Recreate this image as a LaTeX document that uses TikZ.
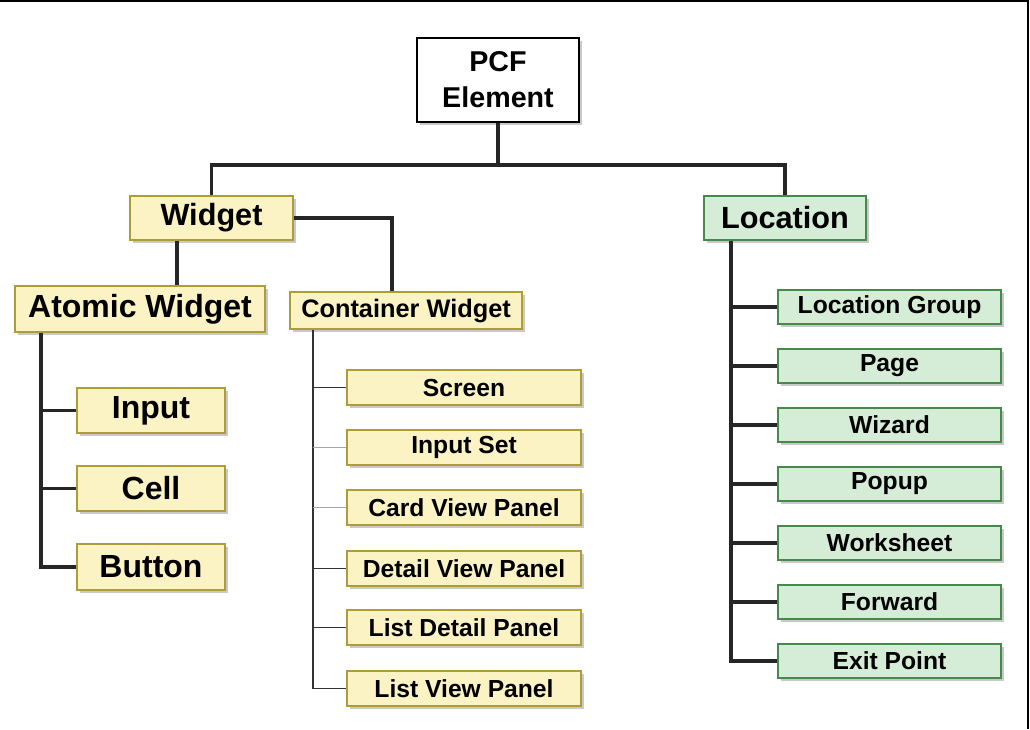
\documentclass[tikz,border=0pt]{standalone}
\usepackage{fontspec}
\setmainfont{Liberation Sans}
\usetikzlibrary{calc,shadows}
\definecolor{yfill}{HTML}{FCF3C5}
\definecolor{ydraw}{HTML}{AE9C36}
\definecolor{gfill}{HTML}{D5EDD6}
\definecolor{gdraw}{HTML}{47884B}
\begin{document}
\begin{tikzpicture}[x=0.75pt,y=-0.75pt,
  box/.style={draw, line width=1.8pt, inner sep=0pt,
    drop shadow={shadow xshift=2.5pt,shadow yshift=-2.5pt,opacity=.35,fill=black!60}},
  ybox/.style={box, fill=yfill, draw=ydraw},
  gbox/.style={box, fill=gfill, draw=gdraw},
  wbox/.style={box, fill=white, draw=black},
  big/.style={font=\bfseries\fontsize{24}{28}\selectfont},
  mid/.style={font=\bfseries\fontsize{23}{27}\selectfont},
  small/.style={font=\bfseries\fontsize{18.5}{22}\selectfont},
  cchild/.style={ybox, small, minimum width=175.5pt, minimum height=26.25pt},
  lchild/.style={gbox, small, minimum width=167.25pt, minimum height=25.5pt},
  awchild/.style={ybox, big, minimum width=111pt, minimum height=33.75pt},
  conn/.style={line width=2.3pt, draw=black!85},
  thinconn/.style={line width=1.2pt, draw=black!80},
  grayconn/.style={line width=0.9pt, draw=black!35}]
\useasboundingbox (0,0) rectangle (1030,729);
\fill[white] (0,0) rectangle (1030,729);
\draw[line width=1.5pt] (0,1) -- (1028,1);
\draw[line width=1.5pt] (1028,0) -- (1028,729);

% nodes
\node[wbox, minimum width=121.5pt, minimum height=63pt, align=center,
  font=\bfseries\fontsize{21.5}{27}\selectfont] (pcf) at (498,80) {PCF\\Element};
\node[ybox, mid, minimum width=122.25pt, minimum height=33pt] (widget) at (211.5,218) {Widget};
\node[gbox, mid, minimum width=121.5pt, minimum height=33pt] (location) at (785,218) {Location};
\node[ybox, big, minimum width=187.5pt, minimum height=34.5pt] (atomic) at (140,309) {Atomic Widget};
\node[ybox, font=\bfseries\fontsize{19}{22}\selectfont, minimum width=174pt, minimum height=27.75pt] (container) at (406,310.5) {Container Widget};

\node[awchild] (input) at (151,410.5) {Input};
\node[awchild] (cell) at (151,488.5) {Cell};
\node[awchild, minimum height=34.5pt] (button) at (151,567) {Button};

\node[cchild] (screen) at (464,387.5) {Screen};
\node[cchild] (inputset) at (464,447.5) {Input Set};
\node[cchild] (card) at (464,507.5) {Card View Panel};
\node[cchild] (detail) at (464,568.5) {Detail View Panel};
\node[cchild] (listdetail) at (464,627.5) {List Detail Panel};
\node[cchild] (listview) at (464,688.5) {List View Panel};

\node[lchild] (lgroup) at (889.5,307) {Location Group};
\node[lchild] (page) at (889.5,366) {Page};
\node[lchild] (wizard) at (889.5,425) {Wizard};
\node[lchild] (popup) at (889.5,484) {Popup};
\node[lchild] (worksheet) at (889.5,543) {Worksheet};
\node[lchild] (forward) at (889.5,602) {Forward};
\node[lchild] (exit) at (889.5,661) {Exit Point};

% connectors
\coordinate (hub) at (498,165);
\draw[conn] (pcf.south) -- (hub);
\draw[conn] (widget.north) |- (hub) -| (location.north);

\draw[conn] (widget.east) -| ($(container.north)+(-14,0)$);
\coordinate (wa) at ($(widget.south)+(-34.5,0)$);
\draw[conn] (wa) -- (wa |- atomic.north);

\coordinate (at) at ($(atomic.south)+(-99,0)$);
\draw[conn] (at) |- (button.west);
\draw[conn] (at |- input.west) -- (input.west);
\draw[conn] (at |- cell.west) -- (cell.west);

\coordinate (ct) at ($(container.south)+(-93,0)$);
\draw[thinconn] (ct) |- (listview.west);
\draw[thinconn] (ct |- screen.west) -- (screen.west);
\draw[grayconn] (ct |- inputset.west) -- (inputset.west);
\draw[grayconn] (ct |- card.west) -- (card.west);
\draw[thinconn] (ct |- detail.west) -- (detail.west);
\draw[thinconn] (ct |- listdetail.west) -- (listdetail.west);

\coordinate (lt) at ($(location.south)+(-54,0)$);
\draw[conn] (lt) |- (exit.west);
\draw[conn] (lt |- lgroup.west) -- (lgroup.west);
\draw[conn] (lt |- page.west) -- (page.west);
\draw[conn] (lt |- wizard.west) -- (wizard.west);
\draw[conn] (lt |- popup.west) -- (popup.west);
\draw[conn] (lt |- worksheet.west) -- (worksheet.west);
\draw[conn] (lt |- forward.west) -- (forward.west);
\end{tikzpicture}
\end{document}
